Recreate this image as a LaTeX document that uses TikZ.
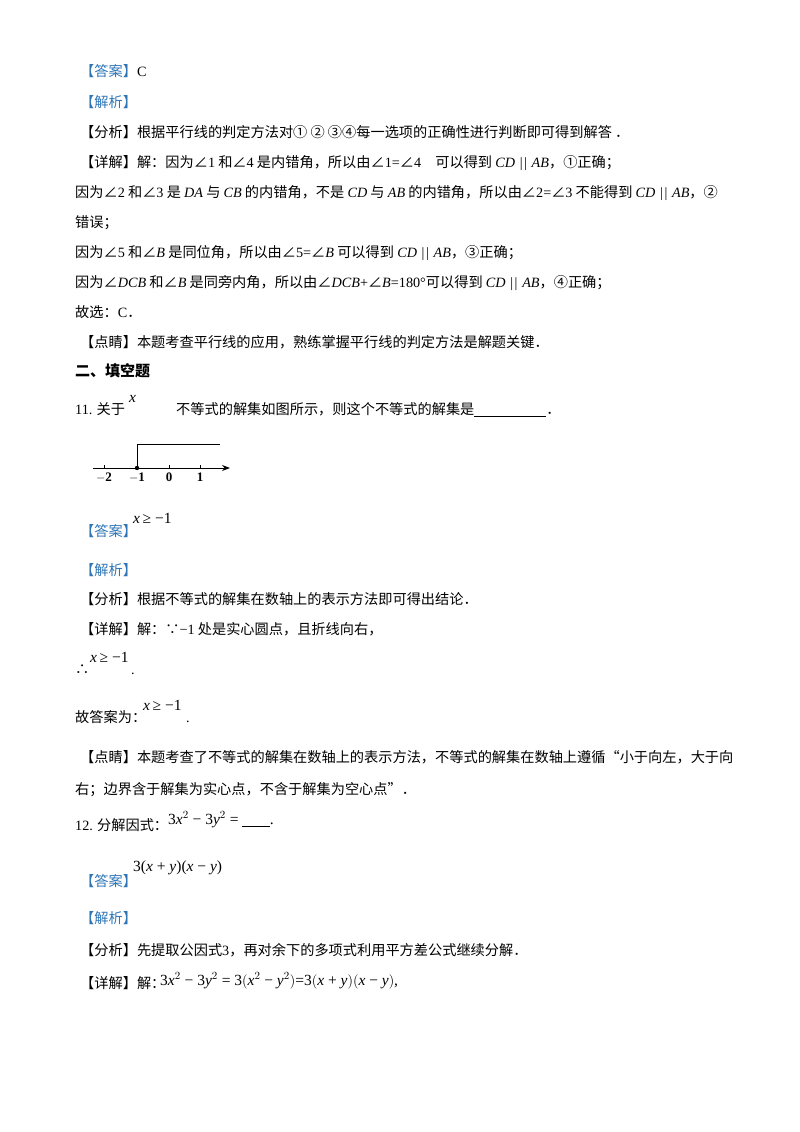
\documentclass[tikz,border=0pt]{standalone}
\usepackage{fontspec}
\usetikzlibrary{arrows.meta}
\setmainfont{Noto Sans CJK SC}
\newfontfamily\lat{Liberation Serif}
\newcommand{\m}[1]{{\lat\itshape #1}}
\newcommand{\n}[1]{{\lat #1}}
\newcommand{\pl}{\,{\lat\,|\kern1.5pt|\,}\,}
\definecolor{ansblue}{HTML}{2E75B6}
\newcommand{\bk}[1]{{\color{ansblue}【#1】}}
\begin{document}
\begin{tikzpicture}[x=1pt,y=-1pt,
  T/.style={anchor=base west,inner sep=0pt,font=\fontsize{14.2}{16}\selectfont},
  M/.style={anchor=base west,inner sep=0pt,font=\fontsize{15.5}{17}\selectfont}]
\useasboundingbox (0,0) rectangle (800,1132);
\fill[white] (0,0) rectangle (800,1132);
\node[T] (l1) at (80,77) {\bk{答案}\n{C}};
\node[T] (l2) at (80,107) {\bk{解析}};
\node[T] (l3) at (80,137) {【分析】根据平行线的判定方法对① ② ③④每一选项的正确性进行判断即可得到解答 ．};
\node[T] (l4) at (80,167) {【详解】解：因为∠\n{1} 和∠\n{4} 是内错角，所以由∠\n{1=}∠\n{4}\quad 可以得到 \m{CD}\pl\m{AB}，①正确；};
\node[T] (l5) at (75,197) {因为∠\n{2} 和∠\n{3} 是 \m{DA} 与 \m{CB} 的内错角，不是 \m{CD} 与 \m{AB} 的内错角，所以由∠\n{2=}∠\n{3} 不能得到 \m{CD}\pl\m{AB}，②};
\node[T] (l6) at (75,227) {错误；};
\node[T] (l7) at (75,257) {因为∠\n{5} 和∠\m{B} 是同位角，所以由∠\n{5=}∠\m{B} 可以得到 \m{CD}\pl\m{AB}，③正确；};
\node[T] (l8) at (75,287) {因为∠\m{DCB} 和∠\m{B} 是同旁内角，所以由∠\m{DCB}\n{+}∠\m{B}\n{=180°}可以得到 \m{CD}\pl\m{AB}，④正确；};
\node[T] (l9) at (75,317) {故选：\n{C}．};
\node[T] (l10) at (80,347) {【点睛】本题考查平行线的应用，熟练掌握平行线的判定方法是解题关键．};
\node[T,font=\fontsize{15}{16}\selectfont\bfseries] (h2) at (75,376) {二、填空题};
\node[T] (q11) at (75,414) {\n{11.} 关于};
\node[M] (q11x) at (129,402) {\m{x}};
\node[T] (q11b) at (176,414) {不等式的解集如图所示，则这个不等式的解集是\rule[-2pt]{72pt}{0.5pt}．};
% number line
\coordinate (ax0) at (93,468);
\coordinate (ax1) at (230,468);
\draw[line width=0.9pt,-{Stealth[length=8pt,width=6pt]}] (ax0) -- (ax1);
\foreach \xx/\lb in {104/$-$2,137/$-$1,169/0,200/1}{
  \draw (\xx,468) -- (\xx,465);
  \node[anchor=north,inner sep=0pt,font=\lat\bfseries\fontsize{13}{14}\selectfont] at (\xx,473) {\lb};}
\fill (137,468) circle (2.2);
\coordinate (b0) at (137,468);
\coordinate (b1) at (137,444);
\coordinate (b2) at (220,444);
\draw[line width=0.7pt] (b0) -- (b1) -- (b2);
\node[T] (a11) at (80,536) {\bk{答案}};
\node[M] (a11m) at (133,523) {\m{x}\,\n{≥ −1}};
\node[T] (j11) at (80,575) {\bk{解析}};
\node[T] (f11) at (80,604) {【分析】根据不等式的解集在数轴上的表示方法即可得出结论．};
\node[T] (d11) at (80,634) {【详解】解：∵\n{−1} 处是实心圆点，且折线向右，};
\node[M] (d11m) at (90,662) {\m{x}\,\n{≥ −1}};
\node[T] (d11t) at (75,674) {∴};
\node[T] (d11p) at (131,674) {\n{.}};
\node[T] (g11) at (75,722) {故答案为：};
\node[M] (g11m) at (143,710) {\m{x}\,\n{≥ −1}};
\node[T] (g11p) at (186,722) {\n{.}};
\node[T] (p11) at (80,762) {【点睛】本题考查了不等式的解集在数轴上的表示方法，不等式的解集在数轴上遵循“小于向左，大于向};
\node[T] (p11b) at (75,794) {右；边界含于解集为实心点，不含于解集为空心点”．};
\node[T] (q12) at (75,830) {\n{12.} 分解因式：};
\node[M] (q12m) at (168,824) {\n{3}\m{x}$^{\n{2}}$\n{ − 3}\m{y}$^{\n{2}}$\n{ =} \rule[-2pt]{28pt}{0.5pt}\n{.}};
\node[T] (a12) at (80,886) {\bk{答案}};
\node[M] (a12m) at (133,871) {\n{3(}\m{x}\n{ + }\m{y}\n{)(}\m{x}\n{ − }\m{y}\n{)}};
\node[T] (j12) at (80,923) {\bk{解析}};
\node[T] (f12) at (80,955) {【分析】先提取公因式\n{3}，再对余下的多项式利用平方差公式继续分解．};
\node[T] (d12) at (80,988) {【详解】解：};
\node[M] (d12m) at (160,985) {\n{3}\m{x}$^{\n{2}}$\n{ − 3}\m{y}$^{\n{2}}$\n{ = 3}$\bigl($\m{x}$^{\n{2}}$\n{ − }\m{y}$^{\n{2}}$$\bigr)$\n{=3}$\bigl($\m{x}\n{ + }\m{y}$\bigr)\bigl($\m{x}\n{ − }\m{y}$\bigr)$\n{,}};
\end{tikzpicture}
\end{document}
